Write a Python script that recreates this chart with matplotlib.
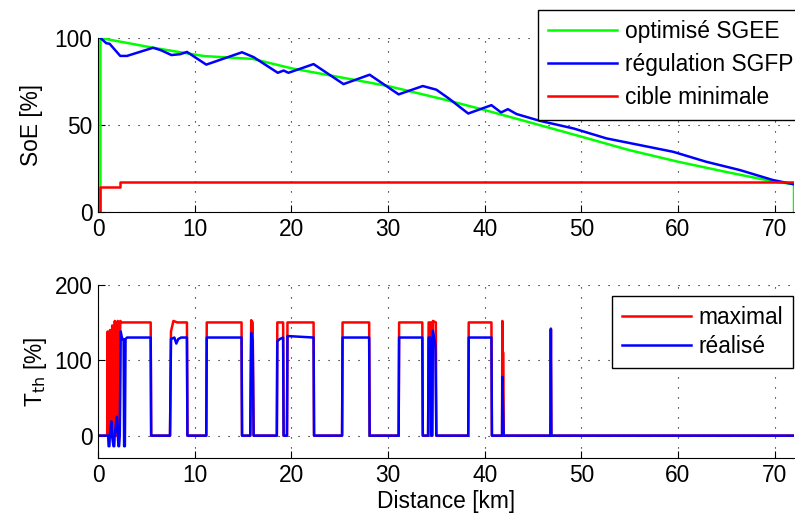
import matplotlib
matplotlib.use("Agg")
import matplotlib.pyplot as plt

# --- SoE panel (distance in km, SoE in %) ---
sgee_km = [0.25, 0.25, 5.7, 9.2, 11.0, 16.0, 20.0, 25.0, 30.0, 36.0, 40.0, 45.0,
           50.0, 55.0, 60.0, 65.0, 70.0, 72.0, 72.0]
sgee_soe = [0, 100, 94.4, 91.2, 89.6, 88.0, 82.6, 77.5, 72.4, 64.4, 58.6, 51.0,
            43.3, 35.5, 28.9, 23.0, 17.4, 16.0, 0]

sgfp_km = [0.25, 0.86, 1.2, 2.3, 3.0, 5.7, 6.5, 7.6, 8.5, 9.2, 11.2, 14.9, 16.1,
           18.6, 19.2, 19.7, 22.3, 25.4, 28.1, 31.1, 33.6, 35.0, 36.3, 38.3,
           40.7, 41.7, 42.4, 43.3, 45.7, 49.2, 52.6, 56.1, 59.5, 62.9, 66.4,
           69.8, 72.0]
sgfp_soe = [100, 97, 96.7, 89.7, 89.7, 94.4, 93.0, 90.2, 90.7, 92.0, 84.7, 91.8,
            89.0, 80.0, 81.3, 80.0, 85.0, 73.5, 78.9, 67.6, 72.4, 70.3, 65.2,
            56.6, 61.4, 57.2, 59.1, 56.3, 52.4, 48.0, 42.3, 38.4, 34.6, 28.9,
            24.1, 18.4, 15.9]

cible_km = [0.25, 0.25, 2.3, 2.3, 72.0]
cible_soe = [0, 14.5, 14.5, 17.0, 17.0]

# --- thermal power panel (%) ---
tmax_km = [0, 0.95, 1.0, 1.06, 1.2, 1.25, 1.32, 1.42, 1.47, 1.55, 1.68, 1.74,
           1.82, 1.98, 2.04, 2.12, 2.25, 2.3, 2.45, 5.45, 5.5, 7.45, 7.55, 7.8,
           8.2, 9.2, 9.25, 11.2, 11.25, 14.85, 14.9, 15.75, 15.85, 16.0, 16.1,
           18.5, 18.55, 19.15, 19.2, 19.55, 19.6, 22.3, 22.35, 25.25, 25.3,
           28.05, 28.1, 31.1, 31.15, 33.55, 33.6, 34.15, 34.2, 34.45, 34.5,
           34.6, 34.65, 34.95, 35.0, 38.3, 38.35, 40.7, 40.75, 41.8, 41.83,
           41.87, 41.93, 41.97, 46.8, 46.85, 46.9, 72.0]
tmax_val = [0, 0, 138, 0, 0, 140, 0, 0, 146, 0, 0, 152, 0, 0, 152, 0, 0, 152,
            150, 150, 0, 0, 138, 152, 150, 150, 0, 0, 150, 150, 0, 0, 153, 150,
            0, 0, 150, 150, 0, 0, 150, 150, 0, 0, 150, 150, 0, 0, 150, 150, 0,
            0, 150, 150, 0, 0, 152, 150, 0, 0, 150, 150, 0, 0, 152, 110, 110, 0,
            0, 142, 0, 0]

treal_km = [0, 1.05, 1.1, 1.18, 1.22, 1.38, 1.45, 1.6, 1.68, 1.72, 1.95, 2.05,
            2.12, 2.18, 2.25, 2.35, 2.5, 2.65, 2.7, 2.78, 2.85, 3.0, 5.45, 5.5,
            7.45, 7.55, 7.9, 8.1, 8.3, 8.6, 9.2, 9.25, 11.2, 11.25, 14.85, 14.9,
            15.75, 15.85, 16.0, 16.1, 18.5, 18.55, 18.8, 19.15, 19.2, 19.55,
            19.6, 22.3, 22.35, 25.25, 25.3, 28.05, 28.1, 31.1, 31.15, 33.55,
            33.6, 34.15, 34.2, 34.4, 34.45, 34.55, 34.65, 34.9, 35.0, 38.3,
            38.35, 40.7, 40.75, 41.8, 41.83, 41.97, 46.8, 46.85, 46.9, 72.0]
treal_val = [0, 0, -14, -14, 0, 19, 0, -14, -14, 0, 25, 0, -14, -14, 0, 138,
             128, 128, -14, -14, 128, 130, 130, 0, 0, 128, 130, 122, 128, 130,
             130, 0, 0, 130, 130, 0, 0, 136, 125, 0, 0, 125, 128, 130, 0, 0,
             132, 130, 0, 0, 130, 130, 0, 0, 130, 130, 0, 0, 130, 130, 0, 0, 139,
             120, 0, 0, 130, 130, 0, 0, 78, 0, 0, 141, 0, 0]

xticks = [0, 10, 20, 30, 40, 50, 60, 70]

plt.rcParams['font.family'] = ['Liberation Sans', 'DejaVu Sans']
plt.rcParams['font.size'] = 16.4
plt.rcParams['xtick.direction'] = 'in'
plt.rcParams['ytick.direction'] = 'in'

W, H = 795, 520
fig = plt.figure(figsize=(W / 100, H / 100), dpi=100)

def px_axes(left, top, right, bottom):
    return fig.add_axes([left / W, 1 - bottom / H, (right - left) / W, (bottom - top) / H])

def style(ax):
    ax.spines['top'].set_visible(False)
    ax.spines['right'].set_visible(False)
    ax.grid(True, linestyle=(0, (1, 8)), color='black', linewidth=0.8)
    ax.tick_params(length=5, width=0.8, pad=4)
    ax.set_xlim(0, 72)
    ax.set_xticks(xticks)

def add_legend(ax, left, top, spacing):
    leg = ax.legend(loc='upper left', bbox_to_anchor=(left / W, 1 - top / H),
                    bbox_transform=fig.transFigure, borderaxespad=0,
                    fancybox=False, edgecolor='black', framealpha=1,
                    handlelength=3.0, labelspacing=spacing, handletextpad=0.35,
                    borderpad=0.45)
    leg.get_frame().set_linewidth(1.0)

ax1 = px_axes(98, 38, 794, 212)
ax1.plot(sgee_km, sgee_soe, color=(0, 1, 0), lw=1.8, label='optimisé SGEE')
ax1.plot(sgfp_km, sgfp_soe, color=(0, 0, 1), lw=1.8, label='régulation SGFP')
ax1.plot(cible_km, cible_soe, color=(1, 0, 0), lw=1.8, label='cible minimale')
style(ax1)
ax1.set_ylim(0, 100)
ax1.set_yticks([0, 50, 100])
ax1.set_ylabel('SoE [%]', labelpad=8)
add_legend(ax1, 538, 10, 0.44)

ax2 = px_axes(98, 284.7, 794, 458.3)
ax2.plot(tmax_km, tmax_val, color=(1, 0, 0), lw=1.8, label='maximal')
ax2.plot(treal_km, treal_val, color=(0, 0, 1), lw=1.8, label='réalisé')
style(ax2)
ax2.set_ylim(-30, 200)
ax2.set_yticks([0, 100, 200])
ax2.set_ylabel('T$_{\\mathrm{th}}$ [%]', labelpad=4)
ax2.set_xlabel('Distance [km]', labelpad=2)
add_legend(ax2, 612, 296, 0.25)

fig.savefig('out.png', dpi=100)
